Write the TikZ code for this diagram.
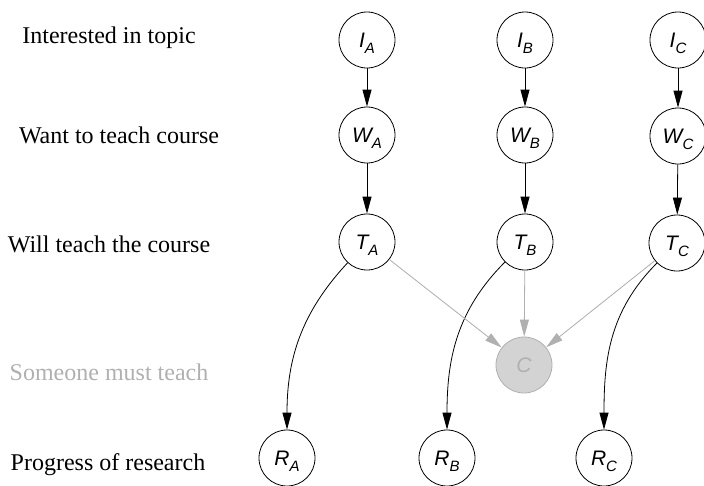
\documentclass[tikz,border=0pt]{standalone}
\usepackage{fontspec}
\setmainfont{Liberation Serif}
\newfontfamily\nodefont{Liberation Sans}
\usetikzlibrary{arrows.meta}
\definecolor{faint}{HTML}{B0B0B0}
\definecolor{faintfill}{HTML}{D3D3D3}
% italic variable name with a lowered subscript (subscript kept out of the centring)
\newcommand{\varlbl}[2]{{\nodefont\itshape\fontsize{21}{21}\selectfont #1\smash{\raisebox{-0.3em}{\fontsize{15}{15}\selectfont #2}}}}
\begin{document}
\begin{tikzpicture}[x=1pt,y=-1pt,
  var/.style={circle,draw,line width=0.8pt,minimum size=56pt,inner sep=0pt},
  hidden/.style={var,draw=faint,fill=faintfill,text=faint},
  edge/.style={line width=0.8pt,-{Triangle[length=17pt,width=9pt]}},
  faintedge/.style={edge,draw=faint,fill=faint},
  rowlbl/.style={anchor=base,inner sep=0pt,font=\fontsize{24}{28}\selectfont}]
\useasboundingbox (0,0) rectangle (704,485);

% row labels
\node[rowlbl] (l1) at (109,43) {Interested in topic};
\node[rowlbl] (l2) at (119,143) {Want to teach course};
\node[rowlbl] (l3) at (109,252) {Will teach the course};
\node[rowlbl,text=faint] (l4) at (109,380) {Someone must teach};
\node[rowlbl] (l5) at (108,470) {Progress of research};

% variables
\node[var] (IA) at (367,40) {\varlbl{I}{A}};
\node[var] (IB) at (525,40) {\varlbl{I}{B}};
\node[var] (IC) at (678,40) {\varlbl{I}{C}};
\node[var] (WA) at (367,135) {\varlbl{W}{A}};
\node[var] (WB) at (525,135) {\varlbl{W}{B}};
\node[var] (WC) at (678,136) {\varlbl{W}{C}};
\node[var] (TA) at (367,242) {\varlbl{T}{A}};
\node[var] (TB) at (525,242) {\varlbl{T}{B}};
\node[var] (TC) at (677,243) {\varlbl{T}{C}};
\node[hidden] (C) at (524,365) {\nodefont\itshape\fontsize{21}{21}\selectfont C};
\node[var] (RA) at (287,458) {\varlbl{R}{A}};
\node[var] (RB) at (447,458) {\varlbl{R}{B}};
\node[var] (RC) at (604,458) {\varlbl{R}{C}};

% connectors
\draw[edge] (IA) -- (WA);
\draw[edge] (IB) -- (WB);
\draw[edge] (IC) -- (WC);
\draw[edge] (WA) -- (TA);
\draw[edge] (WB) -- (TB);
\draw[edge] (WC) -- (TC);
\draw[edge] (TA) to[out=-133,in=90] (RA);
\draw[edge] (TB) to[out=-135,in=90] (RB);
\draw[edge] (TC) to[out=-135,in=90] (RC);
\draw[faintedge] (TA) -- (C);
\draw[faintedge] (TB) -- (C);
\draw[faintedge] (TC) -- (C);
\end{tikzpicture}
\end{document}
